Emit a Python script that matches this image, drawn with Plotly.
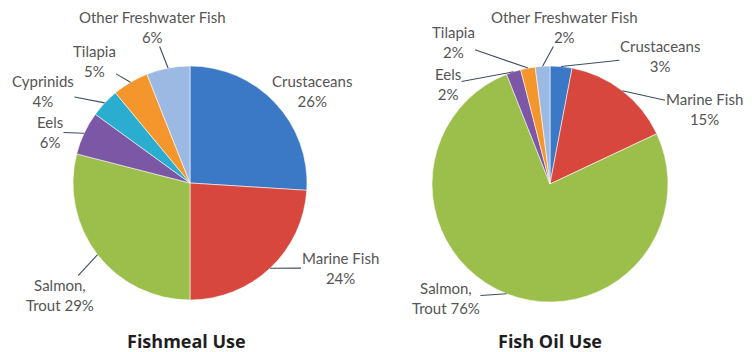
import math
import plotly.graph_objects as go

# ---- data -------------------------------------------------------------
categories = ["Crustaceans", "Marine Fish", "Salmon, Trout", "Eels",
              "Cyprinids", "Tilapia", "Other Freshwater Fish"]
fishmeal_pct = [26, 24, 29, 6, 4, 5, 6]

oil_categories = ["Crustaceans", "Marine Fish", "Salmon, Trout", "Eels",
                  "Tilapia", "Other Freshwater Fish"]
fish_oil_pct = [3, 15, 76, 2, 2, 2]

# label text (the percentage is appended from the values)
label_text = {
    "Crustaceans": "Crustaceans<br>{}%",
    "Marine Fish": "Marine Fish<br>{}%",
    "Salmon, Trout": "Salmon,<br>Trout {}%",
    "Eels": "Eels<br>{}%",
    "Cyprinids": "Cyprinids<br>{}%",
    "Tilapia": "Tilapia<br>{}%",
    "Other Freshwater Fish": "Other Freshwater Fish<br>{}%",
}

# ---- styling / layout -------------------------------------------------
W, H = 752, 352
colors = {
    "Crustaceans": "#3b79c6",
    "Marine Fish": "#d8473e",
    "Salmon, Trout": "#9cbf4b",
    "Eels": "#7c57a6",
    "Cyprinids": "#2badcf",
    "Tilapia": "#f4962b",
    "Other Freshwater Fish": "#9bb9e3",
}
TEXT_COLOR = "#555555"
LINE_COLOR = "#3f4e60"
FONT = "Lato, 'Open Sans', sans-serif"
TITLE_FONT = "'Open Sans', Lato, sans-serif"

# pie centre (px) and radius (px)
left_geom = dict(cx=190, cy=183, r=117)
right_geom = dict(cx=550, cy=184, r=118)

# label centres (px)
left_label_pos = {
    "Crustaceans": (312, 91),
    "Marine Fish": (340, 268),
    "Salmon, Trout": (60, 295),
    "Eels": (50, 132),
    "Cyprinids": (43, 91),
    "Tilapia": (94, 61),
    "Other Freshwater Fish": (152, 27),
}
right_label_pos = {
    "Crustaceans": (660, 56),
    "Marine Fish": (704, 109),
    "Salmon, Trout": (446, 298),
    "Eels": (448, 84),
    "Tilapia": (453, 42),
    "Other Freshwater Fish": (564, 27),
}


def domain_for(g):
    return dict(
        x=[(g["cx"] - g["r"]) / W, (g["cx"] + g["r"]) / W],
        y=[1 - (g["cy"] + g["r"]) / H, 1 - (g["cy"] - g["r"]) / H],
    )


def make_pie(labels, values, g):
    return go.Pie(
        labels=labels,
        values=values,
        sort=False,
        direction="clockwise",
        rotation=0,
        textinfo="none",
        hoverinfo="label+percent",
        marker=dict(colors=[colors[c] for c in labels],
                    line=dict(color="rgba(255,255,255,0.7)", width=0.8)),
        domain=domain_for(g),
        showlegend=False,
    )


def label_annotations(labels, values, g, positions):
    anns = []
    total = float(sum(values))
    start = 0.0
    for lab, val in zip(labels, values):
        span = 360.0 * val / total
        mid = math.radians(start + span / 2)
        start += span
        # tip of the leader line on the slice edge (clockwise from 12 o'clock)
        tx = g["cx"] + g["r"] * math.sin(mid)
        ty = g["cy"] - g["r"] * math.cos(mid)
        lx, ly = positions[lab]
        anns.append(dict(
            x=tx / W, y=1 - ty / H, xref="paper", yref="paper",
            ax=lx - tx, ay=ly - ty,
            text=label_text[lab].format(val),
            align="center",
            showarrow=True, arrowhead=0, arrowwidth=1.1,
            arrowcolor=LINE_COLOR, standoff=0,
            font=dict(family=FONT, size=15, color=TEXT_COLOR),
            borderpad=0,
        ))
    return anns


fig = go.Figure()
fig.add_trace(make_pie(categories, fishmeal_pct, left_geom))
fig.add_trace(make_pie(oil_categories, fish_oil_pct, right_geom))

annotations = []
annotations += label_annotations(categories, fishmeal_pct, left_geom, left_label_pos)
annotations += label_annotations(oil_categories, fish_oil_pct, right_geom, right_label_pos)

# chart titles below each pie
for title, (tx, ty) in [("Fishmeal Use", (186, 341)), ("Fish Oil Use", (550, 341))]:
    annotations.append(dict(
        x=tx / W, y=1 - ty / H, xref="paper", yref="paper",
        text="<b>{}</b>".format(title), showarrow=False,
        xanchor="center", yanchor="middle",
        font=dict(family=TITLE_FONT, size=18, color="#1e1e1e"),
    ))

fig.update_layout(
    width=W, height=H,
    margin=dict(l=0, r=0, t=0, b=0),
    paper_bgcolor="white",
    plot_bgcolor="white",
    annotations=annotations,
)

fig.write_html("out.html")
